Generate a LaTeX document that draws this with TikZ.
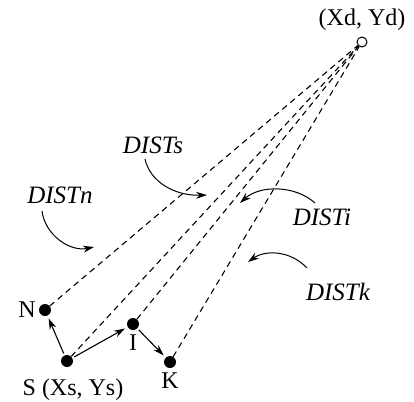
\documentclass[tikz,border=0pt]{standalone}
\usepackage{fontspec}
\setmainfont{Liberation Serif}
\usetikzlibrary{arrows.meta, positioning}

\begin{document}
\begin{tikzpicture}[
    x=1pt, y=-1pt,
    node distance=4pt,
    dot/.style={circle, fill, inner sep=0pt, minimum size=12pt},
    dest/.style={circle, draw, fill=white, inner sep=0pt, minimum size=10pt, line width=1pt},
    lbl/.style={font=\fontsize{24}{26}\selectfont, inner sep=1pt},
    dlbl/.style={font=\fontsize{25}{27}\selectfont\itshape, inner sep=1pt},
    ray/.style={dashed, dash pattern=on 6pt off 4.5pt, line width=1.1pt},
    move/.style={-{Stealth[length=11pt, width=7pt]}, line width=1.1pt, shorten >=3pt, shorten <=2pt},
    pointer/.style={-{Stealth[length=11pt, width=7pt]}, line width=1pt}
  ]
    \useasboundingbox (0,0) rectangle (414,401);

    \node[dest] (d) at (362,42) {};
    \node[dot]  (n) at (45,310) {};
    \node[dot]  (s) at (67,361) {};
    \node[dot]  (i) at (133,324) {};
    \node[dot]  (k) at (170,362) {};

    \node[lbl, above=5pt of d]               {(Xd, Yd)};
    \node[lbl, left=2pt of n]                {N};
    \node[lbl, below=10pt of s, xshift=6pt]  {S (Xs, Ys)};
    \node[lbl, below=3pt of i]               {I};
    \node[lbl, below=3pt of k]               {K};

    \draw[ray] (n) -- (d);
    \draw[ray] (s) -- (d);
    \draw[ray] (i) -- (d);
    \draw[ray] (k) -- (d);

    \draw[move] (s) -- (n);
    \draw[move] (s) -- (i);
    \draw[move] (i) -- (k);

    \node[dlbl] (ds) at (153,145) {DISTs};
    \node[dlbl] (dn) at (60,195)  {DISTn};
    \node[dlbl] (di) at (322,217) {DISTi};
    \node[dlbl] (dk) at (338,292) {DISTk};

    % tails and tips of the curved pointers
    \coordinate (fs) at (145,159);
    \coordinate (fn) at (42,211);
    \coordinate (fi) at (315,203);
    \coordinate (fk) at (307,268);
    \coordinate (ts) at (207,195);
    \coordinate (tn) at (94,247);
    \coordinate (ti) at (240,203);
    \coordinate (tk) at (248,262);

    \draw[pointer] (fs) .. controls (150,182) and (175,196) .. (ts);
    \draw[pointer] (fn) .. controls (45,235) and (70,252) .. (tn);
    \draw[pointer] (fi) .. controls (295,185) and (260,185) .. (ti);
    \draw[pointer] (fk) .. controls (290,250) and (265,250) .. (tk);
  \end{tikzpicture}
\end{document}
